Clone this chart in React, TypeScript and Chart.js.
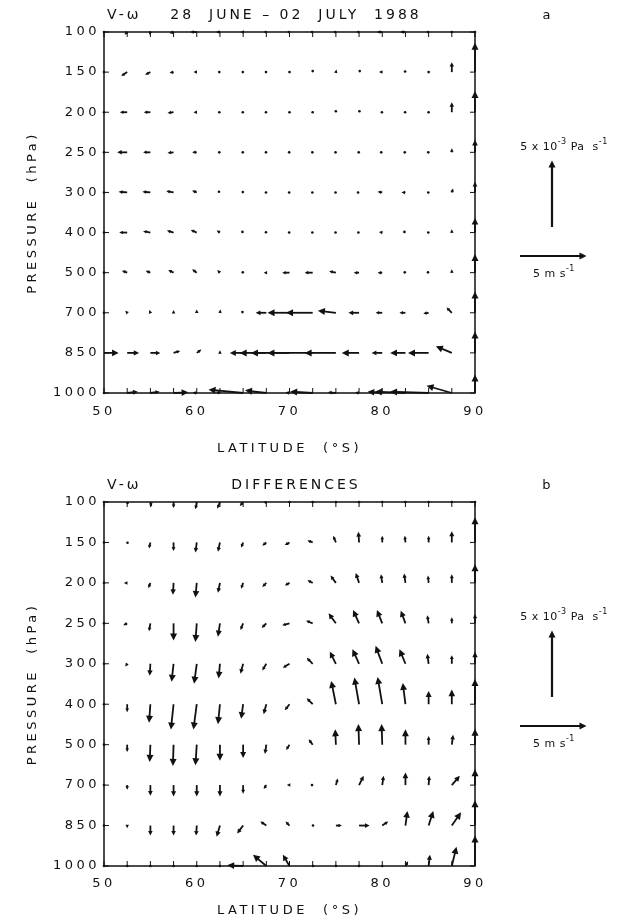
import React, { useEffect, useRef } from "react";
import { Chart, registerables } from "chart.js";
Chart.register(...registerables);

const LATITUDES = [50, 52.5, 55, 57.5, 60, 62.5, 65, 67.5, 70, 72.5, 75, 77.5, 80, 82.5, 85, 87.5, 90];
const PRESSURE_LEVELS = ["100", "150", "200", "250", "300", "400", "500", "700", "850", "1000"];
const LAT_TICKS = [50, 60, 70, 80, 90];

// Panel a: meridional wind v (m/s, + toward the pole) per pressure level
const A_V = [
  [0, -0.2, -0.1, -0.3, -0.5, -0.3, -0.2, -0.1, -0.1, -0.1, -0.1, -0.1, -0.4, -0.4, -0.1, 0, 0],
  [0, -0.45, -0.4, -0.3, -0.25, -0.1, -0.05, -0.05, 0, 0, 0.05, 0.1, -0.25, -0.05, 0, 0, 0],
  [0, -0.55, -0.5, -0.45, -0.25, -0.1, -0.05, -0.05, 0, 0, 0, 0.05, -0.05, -0.05, 0, 0, 0],
  [0, -0.75, -0.55, -0.45, -0.35, -0.1, -0.05, -0.05, -0.05, -0.05, -0.05, -0.05, -0.15, -0.1, -0.05, 0, 0],
  [0, -0.65, -0.6, -0.55, -0.35, -0.15, -0.05, -0.05, -0.05, -0.05, -0.05, -0.15, -0.35, -0.3, -0.05, 0.1, 0],
  [0, -0.6, -0.55, -0.5, -0.45, -0.25, -0.1, -0.05, -0.05, -0.05, -0.05, -0.1, -0.25, -0.15, -0.05, 0, 0],
  [0, -0.4, -0.35, -0.4, -0.35, -0.2, -0.05, -0.2, -0.55, -0.6, -0.5, -0.4, -0.35, -0.1, -0.1, 0, 0],
  [0, -0.15, -0.1, 0, 0, 0.05, -0.1, -0.8, -1.65, -2.0, -1.35, -0.8, -0.5, -0.45, -0.4, -0.4, 0],
  [1.1, 0.9, 0.75, 0.5, 0.35, 0, -1.0, -2.0, -2.9, -3.4, -2.35, -1.3, -0.8, -1.15, -1.55, -1.2, 0],
  [0, 0.8, 0.7, 1.1, -0.3, -0.3, -2.6, -1.6, -0.3, -1.7, -0.6, -0.3, -1.1, -2.3, -2.9, -1.9, 0],
];
// Panel a: vertical motion -omega (10^-3 Pa/s, + upward)
const A_W = [
  [0, -0.2, -0.2, -0.1, 0, 0, 0, 0, 0, 0, 0, 0, 0, 0, 0, 0, 0],
  [0, -0.3, -0.2, -0.05, 0, 0, 0, 0, 0, 0.15, 0.2, 0.15, 0, 0.1, 0, 0.75, 2.2],
  [0, 0, 0, -0.05, 0, 0, 0, 0, 0, 0, 0.15, 0.15, 0, 0, 0, 0.75, 1.6],
  [0, 0, 0, -0.05, 0, 0, 0, 0, 0, 0, 0, 0, 0, 0, 0, 0.3, 0.95],
  [0, 0.05, 0.05, 0.1, 0.15, 0.1, 0.05, 0, 0, 0, 0, 0, 0.05, 0, 0, 0.3, 0.8],
  [0, 0, 0.1, 0.15, 0.2, 0.15, 0.1, 0.05, 0, 0, 0, 0, 0.05, 0.1, 0, 0.25, 1.1],
  [0, 0.15, 0.15, 0.2, 0.25, 0.2, 0.05, 0, 0, 0, 0.1, 0, 0, 0.05, 0.05, 0.25, 1.4],
  [0, 0.15, 0.2, 0.2, 0.25, 0.25, 0.1, 0, 0, 0, 0.15, 0, 0, 0, -0.05, 0.4, 1.6],
  [0, 0, 0, 0.15, 0.25, 0.2, 0, 0, 0, 0, 0, 0, 0, 0, 0, 0.5, 1.6],
  [0, 0.1, 0.1, 0.05, 0.05, 0.1, 0.25, 0.2, 0.05, 0.1, 0.05, 0.05, 0.1, 0.1, 0.1, 0.55, 1.4],
];
// Panel b (differences): v (m/s)
const B_V = [
  [0, 0.05, 0.1, 0, -0.1, -0.2, -0.25, -0.1, 0, 0, 0, 0, 0, 0, 0, 0, 0],
  [0, 0.05, -0.1, 0, -0.1, -0.15, -0.15, -0.3, -0.35, -0.4, -0.2, -0.05, 0, -0.05, 0, 0, 0],
  [0, -0.25, -0.15, -0.05, -0.1, -0.15, -0.15, -0.3, -0.35, -0.4, -0.4, -0.25, -0.1, -0.1, -0.05, 0, 0],
  [0, -0.3, -0.1, 0, -0.1, -0.15, -0.2, -0.35, -0.55, -0.5, -0.55, -0.45, -0.4, -0.35, -0.1, 0, 0],
  [0, -0.15, -0.05, -0.15, -0.2, -0.1, -0.2, -0.3, -0.5, -0.45, -0.45, -0.5, -0.5, -0.45, -0.1, 0, 0],
  [0, 0, -0.1, -0.2, -0.25, -0.15, -0.15, -0.2, -0.35, -0.45, -0.35, -0.35, -0.35, -0.2, 0, 0, 0],
  [0, 0, -0.05, -0.05, -0.1, 0, 0, -0.1, -0.25, -0.3, -0.05, -0.05, -0.05, 0, 0, 0.1, 0],
  [0, 0, 0, 0, 0, 0, 0, -0.2, -0.2, -0.1, 0.15, 0.35, 0.1, 0, 0.05, 0.6, 0],
  [0, 0, 0, 0, -0.05, -0.25, -0.45, -0.45, -0.3, 0.05, 0.45, 0.8, 0.45, 0.15, 0.35, 0.7, 0],
  [0, 0, 0, 0, 0, 0, -1.2, -1.0, -0.5, 0.05, 0, 0, 0, 0.2, 0.1, 0.35, 0],
];
// Panel b (differences): -omega (10^-3 Pa/s, + upward)
const B_W = [
  [0, -0.15, -0.35, -0.45, -0.55, -0.5, -0.3, -0.05, 0, 0, 0, 0, 0, 0, 0, 0, 0],
  [0, -0.05, -0.45, -0.65, -0.75, -0.7, -0.4, -0.25, -0.2, 0.15, 0.5, 0.8, 0.5, 0.5, 0.5, 0.85, 1.9],
  [0, 0, -0.4, -0.9, -1.1, -0.75, -0.45, -0.3, -0.2, 0.2, 0.55, 0.75, 0.65, 0.7, 0.55, 0.65, 1.4],
  [0, -0.15, -0.6, -1.3, -1.4, -1.0, -0.5, -0.35, -0.15, 0.2, 0.75, 1.0, 1.0, 0.95, 0.6, 0.45, 0.7],
  [0, -0.2, -0.9, -1.35, -1.5, -1.1, -0.75, -0.5, -0.3, 0.45, 0.9, 1.1, 1.35, 1.1, 0.75, 0.65, 0.9],
  [0, -0.6, -1.4, -1.9, -1.9, -1.5, -1.1, -0.75, -0.45, 0.45, 1.75, 2.0, 2.05, 1.6, 1.0, 1.1, 1.9],
  [0, -0.55, -1.3, -1.6, -1.55, -1.2, -1.0, -0.7, -0.4, 0.4, 1.15, 1.55, 1.55, 1.15, 0.65, 0.75, 1.2],
  [0, -0.35, -0.8, -0.85, -0.85, -0.85, -0.65, -0.3, 0, 0, 0.5, 0.7, 0.7, 0.95, 0.7, 0.7, 1.2],
  [0, -0.2, -0.75, -0.75, -0.75, -0.85, -0.6, 0.3, 0.3, 0, 0, 0, 0.3, 1.1, 1.1, 1.0, 1.9],
  [0, 0, 0, 0, 0, 0, 0.05, 0.85, 0.85, 0, 0, 0, 0, 0.35, 0.85, 1.45, 2.3],
];

const REF_V = 5; // m s-1 reference arrow
const REF_W = 5; // 10^-3 Pa s-1 reference arrow

const FONT = "'DejaVu Sans', sans-serif";
const INK = "#111";
const PX_PER_UNIT = 13.3;
const AXIS_SPACING = "3.5px";

function drawArrow(ctx: CanvasRenderingContext2D, x0: number, y0: number, x1: number, y1: number) {
  const dx = x1 - x0;
  const dy = y1 - y0;
  const len = Math.hypot(dx, dy);
  if (len < 2.5) {
    ctx.beginPath();
    ctx.arc(x0 + dx / 2, y0 + dy / 2, 1.3, 0, Math.PI * 2);
    ctx.fill();
    return;
  }
  const hl = Math.min(7, Math.max(3.5, len * 0.45));
  const hw = hl * 0.5;
  const ux = dx / len;
  const uy = dy / len;
  const bx = x1 - ux * hl * 0.8;
  const by = y1 - uy * hl * 0.8;
  ctx.beginPath();
  ctx.moveTo(x0, y0);
  ctx.lineTo(bx, by);
  ctx.stroke();
  const hx = x1 - ux * hl;
  const hy = y1 - uy * hl;
  ctx.beginPath();
  ctx.moveTo(x1, y1);
  ctx.lineTo(hx - uy * hw, hy + ux * hw);
  ctx.lineTo(hx + uy * hw, hy - ux * hw);
  ctx.closePath();
  ctx.fill();
}

function drawSupText(ctx: CanvasRenderingContext2D, parts: [string, boolean][], cx: number, cy: number) {
  const base = `11px ${FONT}`;
  const sup = `8px ${FONT}`;
  let total = 0;
  for (const [t, s] of parts) {
    ctx.font = s ? sup : base;
    total += ctx.measureText(t).width;
  }
  let x = cx - total / 2;
  ctx.textAlign = "left";
  ctx.textBaseline = "middle";
  for (const [t, s] of parts) {
    ctx.font = s ? sup : base;
    ctx.fillText(t, x, s ? cy - 5 : cy);
    x += ctx.measureText(t).width;
  }
}

type PanelCfg = {
  top: number;
  height: number;
  v: number[][];
  w: number[][];
  title: string;
  letter: string;
  xScaleHeight: number;
  tickPad: number;
  titlePadBottom: number;
};

function Panel({ cfg }: { cfg: PanelCfg }) {
  const ref = useRef<HTMLCanvasElement | null>(null);
  useEffect(() => {
    const canvas = ref.current;
    if (!canvas) return;
    const points: any[] = [];
    PRESSURE_LEVELS.forEach((_, li) => {
      LATITUDES.forEach((lat, ci) => {
        points.push({ x: lat, y: li, u: cfg.v[li][ci], w: cfg.w[li][ci] });
      });
    });

    const decor = {
      id: "decor",
      beforeUpdate(chart: any) {
        chart.ctx.letterSpacing = AXIS_SPACING;
      },
      beforeDraw(chart: any) {
        chart.ctx.letterSpacing = AXIS_SPACING;
        const { ctx, width, height } = chart;
        ctx.save();
        ctx.fillStyle = "#fff";
        ctx.fillRect(0, 0, width, height);
        ctx.restore();
      },
      beforeDatasetsDraw(chart: any) {
        const { ctx, chartArea: a, scales } = chart;
        ctx.save();
        ctx.strokeStyle = INK;
        ctx.lineWidth = 1.5;
        ctx.strokeRect(a.left, a.top, a.right - a.left, a.bottom - a.top);
        ctx.lineWidth = 1;
        LATITUDES.forEach((lat) => {
          const x = scales.x.getPixelForValue(lat);
          ctx.beginPath();
          ctx.moveTo(x, a.bottom);
          ctx.lineTo(x, a.bottom - 5);
          ctx.moveTo(x, a.top);
          ctx.lineTo(x, a.top + 5);
          ctx.stroke();
        });
        PRESSURE_LEVELS.forEach((_, li) => {
          const y = scales.y.getPixelForValue(li);
          ctx.beginPath();
          ctx.moveTo(a.left, y);
          ctx.lineTo(a.left + 5, y);
          ctx.moveTo(a.right, y);
          ctx.lineTo(a.right - 5, y);
          ctx.stroke();
        });
        ctx.restore();
      },
      afterDatasetsDraw(chart: any) {
        const { ctx } = chart;
        const meta = chart.getDatasetMeta(0);
        const data = chart.data.datasets[0].data as any[];
        ctx.save();
        ctx.strokeStyle = INK;
        ctx.fillStyle = INK;
        ctx.lineWidth = 1.8;
        ctx.lineCap = "butt";
        meta.data.forEach((el: any, i: number) => {
          const d = data[i];
          drawArrow(ctx, el.x, el.y, el.x + d.u * PX_PER_UNIT, el.y - d.w * PX_PER_UNIT);
        });
        ctx.restore();
      },
      afterDraw(chart: any) {
        const { ctx, chartArea: a } = chart;
        ctx.save();
        ctx.fillStyle = INK;
        ctx.strokeStyle = INK;
        ctx.letterSpacing = "3px";
        ctx.font = `14px ${FONT}`;
        ctx.textBaseline = "middle";
        ctx.textAlign = "left";
        ctx.fillText("V-ω", a.left + 3, a.top - 17);
        ctx.textAlign = "center";
        ctx.fillText(cfg.title, 296, a.top - 17);
        ctx.font = `13px ${FONT}`;
        ctx.fillText(cfg.letter, 548, a.top - 16);
        // reference arrows
        ctx.letterSpacing = "0.5px";
        drawSupText(ctx, [["5 x 10", false], ["-3", true], [" Pa  s", false], ["-1", true]], 564, a.top + 115);
        drawSupText(ctx, [["5 m s", false], ["-1", true]], 554, a.top + 242);
        ctx.lineWidth = 2.2;
        const ax = a.right + 77;
        drawArrow(ctx, ax, a.top + 195, ax, a.top + 195 - REF_W * PX_PER_UNIT);
        const hx = a.right + 45;
        drawArrow(ctx, hx, a.top + 224, hx + REF_V * PX_PER_UNIT, a.top + 224);
        ctx.restore();
      },
    };

    const tickFont = { family: FONT, size: 13 };
    const chart = new Chart(canvas, {
      type: "scatter",
      data: {
        datasets: [
          {
            data: points,
            pointRadius: 0,
            pointHoverRadius: 0,
            borderColor: INK,
            backgroundColor: INK,
          },
        ],
      },
      options: {
        responsive: false,
        animation: false,
        events: [],
        layout: { padding: { left: 24, right: 143, top: 32, bottom: 0 } },
        plugins: {
          legend: { display: false },
          tooltip: { enabled: false },
          title: { display: false },
        },
        scales: {
          x: {
            type: "linear",
            position: "bottom",
            min: 50,
            max: 90,
            grid: { display: false, drawTicks: false },
            border: { display: false },
            ticks: {
              stepSize: 10,
              autoSkip: false,
              maxRotation: 0,
              padding: cfg.tickPad,
              color: INK,
              font: tickFont,
              callback: (v: any) => (LAT_TICKS.includes(Number(v)) ? String(v) : ""),
            },
            title: {
              display: true,
              text: "LATITUDE  (°S)",
              color: INK,
              font: tickFont,
              padding: { top: 0, bottom: cfg.titlePadBottom },
            },
            afterFit: (s: any) => {
              s.height = cfg.xScaleHeight;
            },
          },
          y: {
            type: "linear",
            position: "left",
            min: 0,
            max: PRESSURE_LEVELS.length - 1,
            reverse: true,
            grid: { display: false, drawTicks: false },
            border: { display: false },
            ticks: {
              stepSize: 1,
              autoSkip: false,
              padding: 4,
              color: INK,
              font: tickFont,
              callback: (v: any) => PRESSURE_LEVELS[Number(v)] ?? "",
            },
            title: {
              display: true,
              text: "PRESSURE  (hPa)",
              color: INK,
              font: tickFont,
              padding: { top: 1, bottom: 0 },
            },
            afterFit: (s: any) => {
              s.width = 80;
            },
          },
        },
      } as any,
      plugins: [decor],
    });
    return () => chart.destroy();
  }, [cfg]);
  return (
    <canvas
      ref={ref}
      width={618}
      height={cfg.height}
      style={{ position: "absolute", left: 0, top: cfg.top, width: 618, height: cfg.height }}
    />
  );
}

const PANEL_A: PanelCfg = {
  top: 0,
  height: 470,
  v: A_V,
  w: A_W,
  title: "28  JUNE – 02  JULY  1988",
  letter: "a",
  xScaleHeight: 77,
  tickPad: 11,
  titlePadBottom: 14,
};
const PANEL_B: PanelCfg = {
  top: 470,
  height: 450,
  v: B_V,
  w: B_W,
  title: "DIFFERENCES",
  letter: "b",
  xScaleHeight: 54,
  tickPad: 10,
  titlePadBottom: 2,
};

export default function App() {
  return (
    <div style={{ position: "absolute", left: 0, top: 0, width: 618, height: 920, background: "#fff", overflow: "hidden" }}>
      <Panel cfg={PANEL_A} />
      <Panel cfg={PANEL_B} />
    </div>
  );
}
